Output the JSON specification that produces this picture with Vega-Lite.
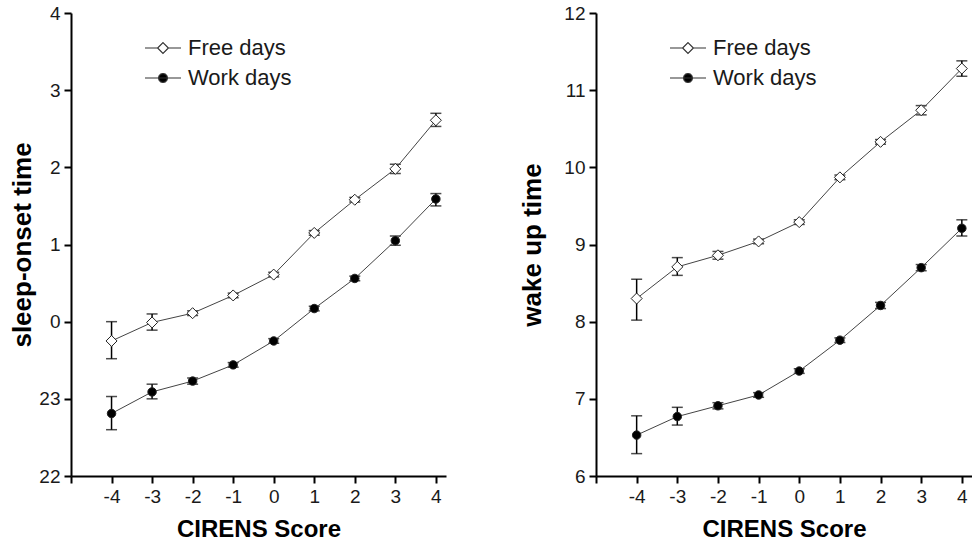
{
  "$schema": "https://vega.github.io/schema/vega-lite/v6.json",
  "autosize": {"type": "pad"},
  "padding": {"left": 9, "top": 4, "right": 0, "bottom": 0},
  "background": "white",
  "spacing": 73,
  "datasets": {
    "sleep": [
      {"series": "Free days", "score": -4, "value": 23.75, "lo": 23.52, "hi": 24.00},
      {"series": "Free days", "score": -3, "value": 23.99, "lo": 23.89, "hi": 24.10},
      {"series": "Free days", "score": -2, "value": 24.11, "lo": 24.08, "hi": 24.14},
      {"series": "Free days", "score": -1, "value": 24.34, "lo": 24.31, "hi": 24.37},
      {"series": "Free days", "score": 0, "value": 24.61, "lo": 24.58, "hi": 24.64},
      {"series": "Free days", "score": 1, "value": 25.15, "lo": 25.12, "hi": 25.18},
      {"series": "Free days", "score": 2, "value": 25.58, "lo": 25.55, "hi": 25.61},
      {"series": "Free days", "score": 3, "value": 25.98, "lo": 25.92, "hi": 26.04},
      {"series": "Free days", "score": 4, "value": 26.61, "lo": 26.53, "hi": 26.70},
      {"series": "Work days", "score": -4, "value": 22.81, "lo": 22.60, "hi": 23.03},
      {"series": "Work days", "score": -3, "value": 23.09, "lo": 23.00, "hi": 23.19},
      {"series": "Work days", "score": -2, "value": 23.23, "lo": 23.19, "hi": 23.27},
      {"series": "Work days", "score": -1, "value": 23.44, "lo": 23.41, "hi": 23.47},
      {"series": "Work days", "score": 0, "value": 23.75, "lo": 23.72, "hi": 23.78},
      {"series": "Work days", "score": 1, "value": 24.17, "lo": 24.14, "hi": 24.20},
      {"series": "Work days", "score": 2, "value": 24.56, "lo": 24.53, "hi": 24.59},
      {"series": "Work days", "score": 3, "value": 25.05, "lo": 24.99, "hi": 25.11},
      {"series": "Work days", "score": 4, "value": 25.59, "lo": 25.50, "hi": 25.66}
    ],
    "wake": [
      {"series": "Free days", "score": -4, "value": 8.30, "lo": 8.02, "hi": 8.55},
      {"series": "Free days", "score": -3, "value": 8.71, "lo": 8.60, "hi": 8.83},
      {"series": "Free days", "score": -2, "value": 8.86, "lo": 8.81, "hi": 8.91},
      {"series": "Free days", "score": -1, "value": 9.04, "lo": 9.01, "hi": 9.07},
      {"series": "Free days", "score": 0, "value": 9.29, "lo": 9.26, "hi": 9.32},
      {"series": "Free days", "score": 1, "value": 9.87, "lo": 9.84, "hi": 9.90},
      {"series": "Free days", "score": 2, "value": 10.33, "lo": 10.30, "hi": 10.36},
      {"series": "Free days", "score": 3, "value": 10.74, "lo": 10.68, "hi": 10.80},
      {"series": "Free days", "score": 4, "value": 11.28, "lo": 11.18, "hi": 11.38},
      {"series": "Work days", "score": -4, "value": 6.53, "lo": 6.29, "hi": 6.78},
      {"series": "Work days", "score": -3, "value": 6.77, "lo": 6.66, "hi": 6.89},
      {"series": "Work days", "score": -2, "value": 6.91, "lo": 6.87, "hi": 6.95},
      {"series": "Work days", "score": -1, "value": 7.05, "lo": 7.02, "hi": 7.08},
      {"series": "Work days", "score": 0, "value": 7.36, "lo": 7.33, "hi": 7.39},
      {"series": "Work days", "score": 1, "value": 7.76, "lo": 7.73, "hi": 7.79},
      {"series": "Work days", "score": 2, "value": 8.21, "lo": 8.17, "hi": 8.25},
      {"series": "Work days", "score": 3, "value": 8.70, "lo": 8.66, "hi": 8.74},
      {"series": "Work days", "score": 4, "value": 9.21, "lo": 9.11, "hi": 9.32}
    ]
  },
  "hconcat": [
    {
      "width": 375,
      "height": 463,
      "data": {"name": "sleep"},
      "encoding": {
        "x": {
          "field": "score",
          "type": "quantitative",
          "scale": {"domain": [-5, 4.25], "nice": false, "zero": false},
          "axis": {
            "title": "CIRENS Score",
            "values": [-5, -4, -3, -2, -1, 0, 1, 2, 3, 4],
            "labelExpr": "datum.value == -5 ? '' : '' + datum.value"
          }
        }
      },
      "layer": [
        {
          "mark": {"type": "rule", "color": "black", "strokeWidth": 1.5},
          "encoding": {
            "y": {
              "field": "lo", "type": "quantitative",
              "scale": {"domain": [22, 28], "nice": false, "zero": false},
              "axis": {
                "title": "sleep-onset time",
                "values": [22, 23, 24, 25, 26, 27, 28],
                "labelExpr": "datum.value >= 24 ? '' + (datum.value - 24) : '' + datum.value",
                "titlePadding": 3
              }
            },
            "y2": {"field": "hi"}
          }
        },
        {
          "mark": {"type": "tick", "orient": "horizontal", "size": 11, "thickness": 1.5, "color": "black"},
          "encoding": {
            "y": {
              "field": "lo", "type": "quantitative",
              "axis": {
                "title": "sleep-onset time",
                "values": [22, 23, 24, 25, 26, 27, 28],
                "labelExpr": "datum.value >= 24 ? '' + (datum.value - 24) : '' + datum.value",
                "titlePadding": 3
              }
            }
          }
        },
        {
          "mark": {"type": "tick", "orient": "horizontal", "size": 11, "thickness": 1.5, "color": "black"},
          "encoding": {
            "y": {
              "field": "hi", "type": "quantitative",
              "axis": {
                "title": "sleep-onset time",
                "values": [22, 23, 24, 25, 26, 27, 28],
                "labelExpr": "datum.value >= 24 ? '' + (datum.value - 24) : '' + datum.value",
                "titlePadding": 3
              }
            }
          }
        },
        {
          "mark": {"type": "line", "color": "#444444", "strokeWidth": 1},
          "encoding": {
            "y": {
              "field": "value", "type": "quantitative",
              "axis": {
                "title": "sleep-onset time",
                "values": [22, 23, 24, 25, 26, 27, 28],
                "labelExpr": "datum.value >= 24 ? '' + (datum.value - 24) : '' + datum.value",
                "titlePadding": 3
              }
            },
            "detail": {"field": "series"}
          }
        },
        {
          "mark": {"type": "point", "filled": true, "opacity": 1, "stroke": "#222222", "strokeWidth": 1},
          "encoding": {
            "y": {
              "field": "value", "type": "quantitative",
              "axis": {
                "title": "sleep-onset time",
                "values": [22, 23, 24, 25, 26, 27, 28],
                "labelExpr": "datum.value >= 24 ? '' + (datum.value - 24) : '' + datum.value",
                "titlePadding": 3
              }
            },
            "fill": {
              "field": "series",
              "type": "nominal",
              "scale": {"domain": ["Free days", "Work days"], "range": ["white", "black"]},
              "legend": {
                "orient": "none",
                "legendX": 73,
                "legendY": 16,
                "title": null,
                "symbolType": {"expr": "datum.value === 'Free days' ? 'M-1,0H-0.3M0.3,0H1M0,-0.3L0.3,0L0,0.3L-0.3,0Z' : 'M-1,0H1M0.25,0L0.2165,0.125L0.125,0.2165L0,0.25L-0.125,0.2165L-0.2165,0.125L-0.25,0L-0.2165,-0.125L-0.125,-0.2165L0,-0.25L0.125,-0.2165L0.2165,-0.125Z'"},
                "symbolSize": 1296,
                "symbolStrokeColor": "#333333",
                "symbolStrokeWidth": 1.2,
                "labelOffset": 6,
                "rowPadding": -12
              }
            },
            "shape": {"condition": {"test": "datum.series === 'Free days'", "value": "diamond"}, "value": "circle"},
            "size": {"condition": {"test": "datum.series === 'Free days'", "value": 121}, "value": 72}
          }
        }
      ]
    },
    {
      "width": 376,
      "height": 463,
      "data": {"name": "wake"},
      "encoding": {
        "x": {
          "field": "score",
          "type": "quantitative",
          "scale": {"domain": [-5, 4.25], "nice": false, "zero": false},
          "axis": {
            "title": "CIRENS Score",
            "values": [-5, -4, -3, -2, -1, 0, 1, 2, 3, 4],
            "labelExpr": "datum.value == -5 ? '' : '' + datum.value"
          }
        }
      },
      "layer": [
        {
          "mark": {"type": "rule", "color": "black", "strokeWidth": 1.5},
          "encoding": {
            "y": {
              "field": "lo", "type": "quantitative",
              "scale": {"domain": [6, 12], "nice": false, "zero": false},
              "axis": {"title": "wake up time", "values": [6, 7, 8, 9, 10, 11, 12], "titlePadding": 18}
            },
            "y2": {"field": "hi"}
          }
        },
        {
          "mark": {"type": "tick", "orient": "horizontal", "size": 11, "thickness": 1.5, "color": "black"},
          "encoding": {
            "y": {
              "field": "lo", "type": "quantitative",
              "axis": {"title": "wake up time", "values": [6, 7, 8, 9, 10, 11, 12], "titlePadding": 18}
            }
          }
        },
        {
          "mark": {"type": "tick", "orient": "horizontal", "size": 11, "thickness": 1.5, "color": "black"},
          "encoding": {
            "y": {
              "field": "hi", "type": "quantitative",
              "axis": {"title": "wake up time", "values": [6, 7, 8, 9, 10, 11, 12], "titlePadding": 18}
            }
          }
        },
        {
          "mark": {"type": "line", "color": "#444444", "strokeWidth": 1},
          "encoding": {
            "y": {
              "field": "value", "type": "quantitative",
              "axis": {"title": "wake up time", "values": [6, 7, 8, 9, 10, 11, 12], "titlePadding": 18}
            },
            "detail": {"field": "series"}
          }
        },
        {
          "mark": {"type": "point", "filled": true, "opacity": 1, "stroke": "#222222", "strokeWidth": 1},
          "encoding": {
            "y": {
              "field": "value", "type": "quantitative",
              "axis": {"title": "wake up time", "values": [6, 7, 8, 9, 10, 11, 12], "titlePadding": 18}
            },
            "fill": {
              "field": "series",
              "type": "nominal",
              "scale": {"domain": ["Free days", "Work days"], "range": ["white", "black"]},
              "legend": {
                "orient": "none",
                "legendX": 73,
                "legendY": 16,
                "title": null,
                "symbolType": {"expr": "datum.value === 'Free days' ? 'M-1,0H-0.3M0.3,0H1M0,-0.3L0.3,0L0,0.3L-0.3,0Z' : 'M-1,0H1M0.25,0L0.2165,0.125L0.125,0.2165L0,0.25L-0.125,0.2165L-0.2165,0.125L-0.25,0L-0.2165,-0.125L-0.125,-0.2165L0,-0.25L0.125,-0.2165L0.2165,-0.125Z'"},
                "symbolSize": 1296,
                "symbolStrokeColor": "#333333",
                "symbolStrokeWidth": 1.2,
                "labelOffset": 6,
                "rowPadding": -12
              }
            },
            "shape": {"condition": {"test": "datum.series === 'Free days'", "value": "diamond"}, "value": "circle"},
            "size": {"condition": {"test": "datum.series === 'Free days'", "value": 121}, "value": 72}
          }
        }
      ]
    }
  ],
  "resolve": {
    "scale": {"fill": "independent"},
    "legend": {"fill": "independent"}
  },
  "config": {
    "view": {"stroke": null},
    "font": "Liberation Sans",
    "axis": {
      "grid": false,
      "domainColor": "black",
      "domainWidth": 2,
      "tickColor": "black",
      "tickWidth": 2,
      "tickSize": 7,
      "labelFont": "Liberation Sans",
      "labelFontSize": 19,
      "labelColor": "#1a1a1a",
      "labelPadding": 4,
      "labelFlush": false,
      "labelOverlap": false,
      "titleFont": "Liberation Sans",
      "titleFontWeight": "bold",
      "titleColor": "black"
    },
    "axisX": {"titleFontSize": 24, "titlePadding": 11},
    "axisY": {"titleFontSize": 26},
    "legend": {
      "labelFont": "Liberation Sans",
      "labelFontSize": 22,
      "labelColor": "#1a1a1a",
      "padding": 0
    }
  }
}
